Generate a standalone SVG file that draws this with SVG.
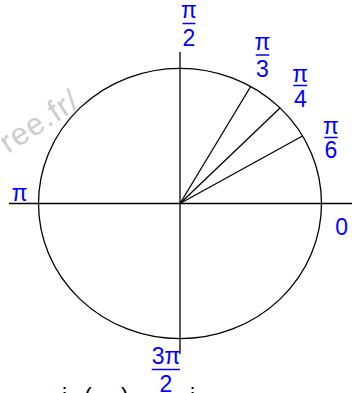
<svg xmlns="http://www.w3.org/2000/svg" width="352" height="393" viewBox="0 0 352 393">
<style>
.ln{stroke:#000;stroke-width:1.3;fill:none}
.lb{font-family:"Liberation Sans",Arial,sans-serif;font-size:23px;fill:#0000ff;text-anchor:middle}
.bar{stroke:#0000ff;stroke-width:1.5}
.wm{font-family:"Liberation Sans",Arial,sans-serif;font-size:31px;letter-spacing:1px;fill:#cdcdcd}
.bt{font-family:"Liberation Sans",Arial,sans-serif;font-size:23px;fill:#000}
</style>
<rect width="352" height="393" fill="#fff"/>
<text class="wm" transform="translate(8,154) rotate(-33)">ree.fr/</text>
<g id="circle"><ellipse class="ln" cx="180" cy="203.5" rx="141.5" ry="135.2"/></g>
<g id="connectors">
<line class="ln" x1="9" y1="203.5" x2="352" y2="203.5"/>
<line class="ln" x1="180" y1="52" x2="180" y2="354"/>
<line class="ln" x1="180" y1="203.5" x2="250.7" y2="86.5"/>
<line class="ln" x1="180" y1="203.5" x2="280" y2="108"/>
<line class="ln" x1="180" y1="203.5" x2="302.5" y2="136"/>
</g>
<g id="label-pi2"><text class="lb" x="189" y="17.5">π</text><line class="bar" x1="182.5" y1="23.5" x2="195.5" y2="23.5"/><text class="lb" x="189" y="45.5">2</text></g>
<g id="label-pi3"><text class="lb" x="262.5" y="50">π</text><line class="bar" x1="255.7" y1="55" x2="269.3" y2="55"/><text class="lb" x="262.5" y="76.5">3</text></g>
<g id="label-pi4"><text class="lb" x="300.3" y="81.7">π</text><line class="bar" x1="293.3" y1="85.5" x2="307.3" y2="85.5"/><text class="lb" x="300.3" y="107.3">4</text></g>
<g id="label-pi6"><text class="lb" x="331" y="134.4">π</text><line class="bar" x1="324.3" y1="137.5" x2="337.7" y2="137.5"/><text class="lb" x="331" y="158.3">6</text></g>
<g id="label-pi"><text class="lb" x="19.7" y="200.7">π</text></g>
<g id="label-0"><text class="lb" x="341.7" y="234.7">0</text></g>
<g id="label-3pi2"><text class="lb" x="166" y="364">3π</text><line class="bar" x1="151.7" y1="369.5" x2="180" y2="369.5"/><text class="lb" x="166" y="391.7">2</text></g>
<text class="bt" y="405"><tspan x="62">i</tspan><tspan x="84">(</tspan><tspan x="121">)</tspan><tspan x="190">i</tspan></text>
</svg>
